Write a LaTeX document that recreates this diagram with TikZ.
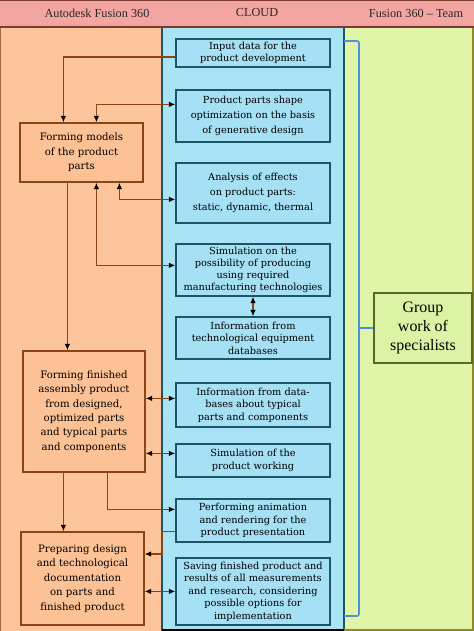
\documentclass[tikz,border=0pt]{standalone}
\usepackage{fontspec}
\setmainfont{DejaVu Serif}
\newfontfamily\tnr{Liberation Serif}
\usetikzlibrary{arrows.meta,calc}
\definecolor{hdr}{HTML}{F3A6A1}
\definecolor{hdrb}{HTML}{7A3A30}
\definecolor{orcol}{HTML}{FDC59B}
\definecolor{orbox}{HTML}{FCC194}
\definecolor{cloudcol}{HTML}{A9E3F6}
\definecolor{cloudbox}{HTML}{A6E0F4}
\definecolor{teamcol}{HTML}{E1F5A9}
\definecolor{teambox}{HTML}{DCF2A4}
\definecolor{lborder}{HTML}{8A4416}
\definecolor{cborder}{HTML}{1D5566}
\definecolor{gborder}{HTML}{56682A}
\definecolor{connc}{HTML}{8B4513}
\definecolor{bracec}{HTML}{4A92DA}
\tikzset{
  tipA/.tip={Latex[black,length=6.5pt,width=5.5pt]},
  lbox/.style={draw=lborder, line width=1.2pt, fill=orbox, align=center, inner sep=0pt,
    font=\fontsize{10.2}{14.5}\selectfont},
  cbox/.style={draw=cborder, line width=1.2pt, fill=cloudbox, align=center, inner sep=0pt,
    minimum width=154bp, font=\fontsize{9.8}{12.6}\selectfont},
  gbox/.style={draw=gborder, line width=1.2pt, fill=teambox, align=center, inner sep=0pt,
    font=\tnr\fontsize{16}{19}\selectfont},
  hdrtext/.style={font=\tnr\fontsize{12.3}{13}\selectfont, text=black!85},
  conn/.style={draw=connc, line width=1.3pt},
  bracel/.style={draw=bracec, line width=1.6pt, rounded corners=2bp}
}
\begin{document}
\begin{tikzpicture}[x=1bp,y=-1bp]
\useasboundingbox (0,0) rectangle (474,631);
% columns
\fill[orcol] (0,27) rectangle (162,631);
\fill[cloudcol] (162,27) rectangle (344,631);
\fill[teamcol] (344,27) rectangle (474,631);
\draw[cborder, line width=1.3pt] (162,27) -- (162,631);
\draw[cborder, line width=1.3pt] (344,27) -- (344,631);
\draw[black, line width=1.5pt] (162,630) -- (344,630);
\draw[olive!70!gray, line width=2pt] (473,27) -- (473,630) -- (344,630);
\draw[lborder!80, line width=1pt] (0.5,27) -- (0.5,631);
% header
\fill[hdr] (0,0) rectangle (474,27);
\draw[hdrb, line width=1.2pt] (0,27) -- (474,27);
\draw[hdrb, line width=1pt] (0,0.5) -- (474,0.5);
\node[hdrtext] (h1) at (97,13) {Autodesk Fusion 360};
\node[hdrtext] (h2) at (257,13) {CLOUD};
\node[hdrtext] (h3) at (416,13) {Fusion 360 – Team};
% cloud boxes
\node[cbox, minimum height=28bp] (c1) at (253,53) {Input data for the\\product development};
\node[cbox, minimum height=52bp, font=\fontsize{9.8}{15}\selectfont] (c2) at (253,116) {Product parts shape\\optimization on the basis\\of generative design};
\node[cbox, minimum height=60bp, font=\fontsize{9.8}{15}\selectfont] (c3) at (253,193) {Analysis of effects\\on product parts:\\static, dynamic, thermal};
\node[cbox, minimum height=52bp, font=\fontsize{9.8}{12}\selectfont] (c4) at (253,270) {Simulation on the\\possibility of producing\\using required\\manufacturing technologies};
\node[cbox, minimum height=42bp] (c5) at (253,338) {Information from\\technological equipment\\databases};
\node[cbox, minimum height=44bp] (c6) at (253,405) {Information from data-\\bases about typical\\parts and components};
\node[cbox, minimum height=33bp] (c7) at (253,460.5) {Simulation of the\\product working};
\node[cbox, minimum height=43bp] (c8) at (253,520.5) {Performing animation\\and rendering for the\\product presentation};
\node[cbox, minimum height=67bp] (c9) at (253,591.5) {Saving finished product and\\results of all measurements\\and research, considering\\possible options for\\implementation};
% left boxes
\node[lbox, minimum width=123bp, minimum height=59bp] (A) at (81.5,152.5) {Forming models\\of the product\\parts};
\node[lbox, minimum width=122bp, minimum height=121bp] (B) at (84,411.5) {Forming finished\\assembly product\\from designed,\\optimized parts\\and typical parts\\and components};
\node[lbox, minimum width=123bp, minimum height=93bp] (C) at (82.5,578.5) {Preparing design\\and technological\\documentation\\on parts and\\finished product};
% group box
\node[gbox, minimum width=98bp, minimum height=70bp] (G) at (423,328) {Group\\work of\\specialists};
% brace
\coordinate (bt) at (344,41);
\coordinate (bb) at (344,616);
\coordinate (bm) at (359,328);
\draw[bracel] (bt) -- (359,41) -- (359,616) -- (bb);
\draw[draw=bracec, line width=1.6pt] (bm) -- (G.west);
% anchor points
\coordinate (p1) at ($(c1.west)+(0,4)$);
\coordinate (pa1) at ($(A.north west)+(44,0)$);
\coordinate (pa2) at ($(A.north west)+(77,0)$);
\coordinate (p2) at ($(c2.north west)+(0,15)$);
\coordinate (pa3) at ($(A.south west)+(100,0)$);
\coordinate (p3) at ($(c3.north west)+(0,37)$);
\coordinate (pa4) at ($(A.south west)+(77,0)$);
\coordinate (p4) at ($(c4.north west)+(0,22)$);
\coordinate (pa5) at ($(A.south west)+(48,0)$);
\coordinate (p6) at ($(c6.north west)+(0,16)$);
\coordinate (p7) at ($(c7.north west)+(0,10)$);
\coordinate (pb1) at ($(B.south west)+(41,0)$);
\coordinate (pb2) at ($(B.south west)+(85,0)$);
\coordinate (p8) at ($(c8.north west)+(0,11)$);
\coordinate (p8b) at ($(c8.north west)+(0,33)$);
\coordinate (k1) at (162,554);
\coordinate (p9) at ($(c9.north west)+(0,34)$);
% connectors
\draw[conn,-tipA] (p1) -| (pa1);
\draw[conn,tipA-tipA] (pa2) |- (p2);
\draw[conn,tipA-tipA] (pa3) |- (p3);
\draw[conn,tipA-tipA] (pa4) |- (p4);
\draw[conn,tipA-tipA] (c4.south) -- (c5.north);
\draw[conn,-tipA] (pa5) -- (pa5 |- B.north);
\draw[conn,tipA-tipA] (B.east |- p6) -- (p6);
\draw[conn,tipA-tipA] (B.east |- p7) -- (p7);
\draw[conn,-tipA] (pb1) -- (pb1 |- C.north);
\draw[conn,-tipA] (pb2) |- (p8);
\draw[conn,-tipA] (p8b) -| (k1) -- (C.east |- k1);
\draw[conn,tipA-tipA] (C.east |- p9) -- (p9);
\end{tikzpicture}
\end{document}
